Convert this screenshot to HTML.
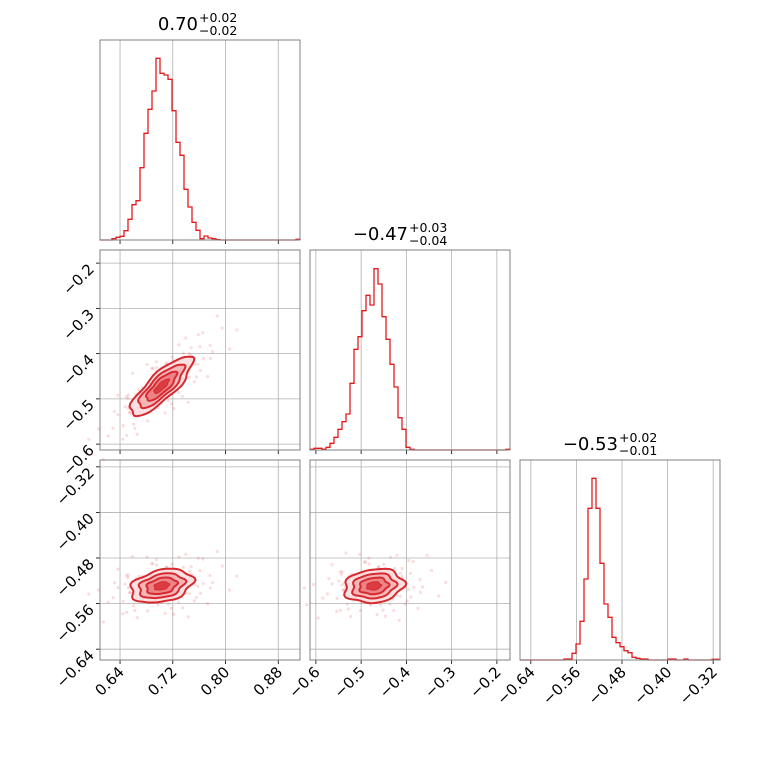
<!DOCTYPE html>
<html><head><meta charset="utf-8"><style>
body{margin:0;background:#fff}
svg text{font-family:"DejaVu Sans","Liberation Sans",sans-serif;fill:#000}
</style></head><body>
<svg id="c" width="760" height="760" xmlns="http://www.w3.org/2000/svg"></svg>
<script>
const hist1Counts=[0,0,0,4,8,11,28,62,106,118,217,320,392,447,545,500,495,482,388,293,254,152,99,53,29,4,12,6,4,1,0,0,0,0,0,0,0,0,0,0,0,0,0,0,0,0,0,0,0,2];
const hist2Counts=[2,5,5,2,8,20,38,62,85,108,200,302,340,418,464,435,544,498,400,332,257,189,97,62,8,2,0,0,0,0,0,0,0,0,0,0,0,0,0,0,0,0,0,0,0,0,0,0,0,2];
const hist3Counts=[0,0,0,0,0,0,0,0,0,0,0,3,3,20,48,116,243,455,545,455,290,168,128,68,52,40,28,22,8,5,3,3,0,0,0,0,0,3,3,0,0,3,0,0,0,0,0,0,2,2];
const xTicks1=[0.64,0.72,0.80,0.88];
const xTicks2=[-0.6,-0.5,-0.4,-0.3,-0.2];
const xTicks3=[-0.64,-0.56,-0.48,-0.40,-0.32];
const xLabels1=["0.64","0.72","0.80","0.88"];
const xLabels2=["−0.6","−0.5","−0.4","−0.3","−0.2"];
const xLabels3=["−0.64","−0.56","−0.48","−0.40","−0.32"];
const titleMedians=["0.70","−0.47","−0.53"];
const titlePlus=["+0.02","+0.03","+0.02"];
const titleMinus=["−0.02","−0.04","−0.01"];
const centers=[0.703,-0.472,-0.529];
const stds=[0.023,0.032,0.0145];
const rhoAB=0.82, rhoAC=0.3, rhoBC=0.15;
const levels=[0.5,1.0,1.5,2.05];
const normPairs=[[0.1,0.2],[-0.5,0.8],[1.2,-0.3],[-1.4,-1.1],[0.7,1.5],[-0.2,-1.7],[2.1,0.4],[-2.2,0.6],[0.9,-1.2],[-0.8,-0.4],[1.6,1.1],[-1.1,1.6],[0.3,-0.6],[-0.3,0.5],[2.5,-0.8],[-2.6,-0.5],[1.9,2.0],[-1.8,-1.9],[0.5,2.4],[-0.6,-2.5],[1.3,0.0],[-1.3,0.1],[0.0,1.3],[0.2,-1.4],[2.8,1.2],[-2.9,1.0],[1.0,-2.2],[-1.0,2.2],[0.6,0.6],[-0.7,-0.7],[1.7,-1.6],[-1.6,1.7],[2.3,-2.0],[-2.4,2.1],[0.8,-0.1],[-0.9,0.0],[1.5,0.5],[-1.5,-0.6],[0.4,1.9],[-0.4,-1.9],[3.1,0.2],[-3.0,-0.3],[1.1,2.8],[-1.2,-2.7],[2.0,-0.2],[-2.0,0.3],[0.15,0.9],[-0.25,-0.95],[1.35,1.6],[-1.45,-1.3]];
const ranges=[[0.6096,0.913],[-0.613,-0.171],[-0.659,-0.308]];
const NS="http://www.w3.org/2000/svg";
const svg=document.getElementById('c');
function mk(tag,attrs,parent){const e=document.createElementNS(NS,tag);for(const k in attrs)e.setAttribute(k,attrs[k]);(parent||svg).appendChild(e);return e;}
const P=[100,310,520], PT=[40,250,460], S=200;
function sx(col,v){const r=ranges[col];return P[col]+(v-r[0])/(r[1]-r[0])*S;}
function sy(row,v){const r=ranges[row];return PT[row]+S-(v-r[0])/(r[1]-r[0])*S;}
const xT=[xTicks1,xTicks2,xTicks3], xL=[xLabels1,xLabels2,xLabels3];
const yT=[null,[-0.2,-0.3,-0.4,-0.5,-0.6],xTicks3], yL=[null,["−0.2","−0.3","−0.4","−0.5","−0.6"],xLabels3];
const hists=[hist1Counts,hist2Counts,hist3Counts];
function frame(row,col,name){
  const g=mk('g',{});
  xT[col].forEach(t=>{const x=sx(col,t);const l=mk('line',{x1:x,x2:x,y1:PT[row],y2:PT[row]+S,stroke:'#b0b0b0','stroke-width':0.8},g);
    const tk=mk('line',{x1:x,x2:x,y1:PT[row]+S,y2:PT[row]+S+4,stroke:'#000','stroke-width':0.8},g);});
  if(row!==col){yT[row].forEach(t=>{const y=sy(row,t);const l=mk('line',{x1:P[col],x2:P[col]+S,y1:y,y2:y,stroke:'#b0b0b0','stroke-width':0.8},g);
    if(col===0){const tk=mk('line',{x1:P[col]-4,x2:P[col],y1:y,y2:y,stroke:'#000','stroke-width':0.8},g);}});}
  return g;
}
function border(row,col,g){const r=mk('rect',{x:P[col],y:PT[row],width:S,height:S,fill:'none',stroke:'#808080','stroke-width':1},g);}
for(let i=0;i<3;i++){
  const g=frame(i,i,'histogram-panel-'+(i+1));
  const c=hists[i], r=ranges[i], w=(r[1]-r[0])/c.length;
  const yv=v=>PT[i]+S-v/3;
  let d='M'+P[i]+' '+yv(0);
  c.forEach((v,k)=>{const x0=sx(i,r[0]+k*w),x1=sx(i,r[0]+(k+1)*w);d+=' L'+x0+' '+yv(v)+' L'+x1+' '+yv(v);});
  d+=' L'+(P[i]+S)+' '+yv(0);
  const p=mk('path',{d:d,fill:'none',stroke:'#e41a1c','stroke-width':1.3},g);
  border(i,i,g);
  const cx=P[i]+S/2, ty=PT[i]-10;
  const t=mk('text',{x:cx-2,y:ty,'font-size':18,'text-anchor':'end'},g);t.textContent=titleMedians[i];
  const tp=mk('text',{x:cx-1,y:ty-8,'font-size':12.5},g);tp.textContent=titlePlus[i];
  const tm=mk('text',{x:cx-1,y:ty+5,'font-size':12.5},g);tm.textContent=titleMinus[i];
}
const pairs=[[1,0,rhoAB],[2,0,rhoAC],[2,1,rhoBC]];
const fills=['#fbdcdd','#f4aeb0','#ea7a7e','#d8343a'];
const spreads=[0.7,1.15,1.6];
pairs.forEach(([row,col,rho],pi)=>{
  const g=frame(row,col,'scatter-panel-'+(pi+1));
  const cx=centers[col],cy=centers[row],sxv=stds[col],syv=stds[row],q=Math.sqrt(1-rho*rho);
  spreads.forEach((s,si)=>normPairs.forEach(([a0,b0])=>{const a=si===1?b0:a0,b=si===1?-a0:(si===2?-b0:b0);const X=cx+s*sxv*a,Y=cy+s*syv*(rho*a+q*b);
    const pt=mk('circle',{cx:sx(col,X),cy:sy(row,Y),r:1.6,fill:'#e8575c','fill-opacity':0.2},g);}));
  const L=levels.slice().reverse();
  L.forEach((k,li)=>{let pts=[];for(let j=0;j<48;j++){const t=j/48*2*Math.PI;const wob=1+0.06*Math.sin(5*t+pi)+0.04*Math.cos(7*t);
      const X=cx+k*wob*sxv*Math.cos(t),Y=cy+k*wob*syv*(rho*Math.cos(t)+q*Math.sin(t));pts.push(sx(col,X).toFixed(1)+','+sy(row,Y).toFixed(1));}
    const pg=mk('polygon',{points:pts.join(' '),fill:fills[li],'fill-opacity':li===3?0.9:0.85,stroke:'#d62a30','stroke-width':li===3?1:2},g);});
  border(row,col,g);
});
for(let col=0;col<3;col++){xT[col].forEach((t,i)=>{const x=sx(col,t);const tx=mk('text',{x:x+5,y:673,'font-size':15,'text-anchor':'end',transform:'rotate(-45 '+(x+5)+' 673)'});tx.textContent=xL[col][i];});}
for(let row=1;row<3;row++){yT[row].forEach((t,i)=>{const y=sy(row,t);const X=95,Y=y+7;const tx=mk('text',{x:X,y:Y,'font-size':15,'text-anchor':'end',transform:'rotate(-45 '+X+' '+Y+')'});tx.textContent=yL[row][i];});}
</script>
</body></html>
